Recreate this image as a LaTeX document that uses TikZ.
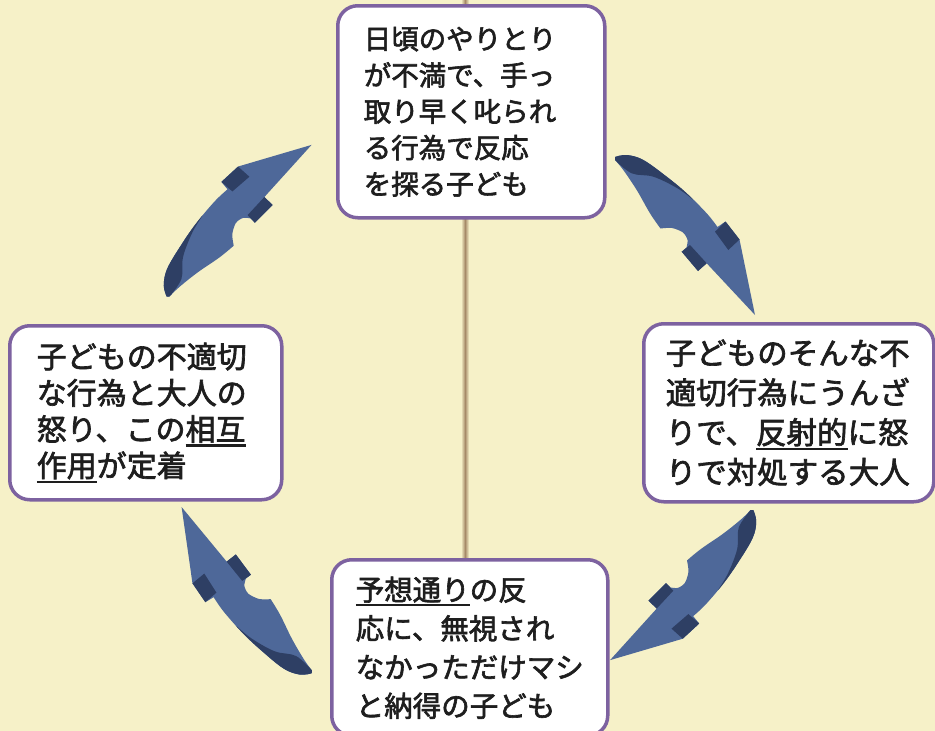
\documentclass[tikz,border=0pt]{standalone}
\usepackage{fontspec}
\newfontfamily\jp{Noto Sans CJK JP}[FakeBold=2.2]
\definecolor{bgc}{HTML}{F6F1C8}
\definecolor{crease}{HTML}{A68A68}
\definecolor{boxline}{HTML}{7D62A0}
\definecolor{arrlight}{HTML}{4E6899}
\definecolor{arrdark}{HTML}{2E3F64}
\definecolor{txt}{HTML}{1E1E1E}
\newcommand\myul[1]{\setbox0\hbox{#1}\leavevmode\rlap{\rule[-0.2em]{\wd0}{0.07em}}\box0}
\tikzset{
  arrbody/.style={insert path={
    plot[smooth,tension=0.6] coordinates {(0,0) (11.7,-2) (28.3,3) (51.7,19.7) (71.7,36.3) (91.7,56.3) (102.5,70)}
    -- (110.5,64.5) -- (124.5,82.5) -- (140,158) -- (91.7,106.3) -- (83,114) -- (66.7,94.7) -- (71.5,90.5)
    -- plot[smooth,tension=0.5] coordinates {(71.5,90.5) (72.5,83) (68,75.5) (57,71) (45.5,71.5)}
    -- plot[smooth,tension=0.6] coordinates {(45.5,71.5) (35,56.3) (21.7,33) (8.3,13) (0,3)} -- cycle}},
  arrband/.style={insert path={
    (-15,8) -- (0,3) -- plot[smooth,tension=0.6] coordinates {(0,3) (16.7,16.3) (38.3,19.7) (62,31) (78,42.6)}
    -- (95,30) -- (40,-25) -- (-15,-10) -- cycle}},
  arrrects/.style={insert path={
    (100,74.7) -- (110.5,64.5) -- (124.5,82.5) -- (113.3,93) -- cycle
    (66.7,94.7) -- (75,88) -- (91.7,106.3) -- (83,114) -- cycle}},
  cbox/.style={draw=boxline, line width=3.5pt, fill=white, rounded corners=20pt,
    anchor=north west, align=left, text=txt, inner ysep=0pt},
}
\newcommand\cyclearrow[4]{%
  \begin{scope}[shift={(#1,#2)},rotate=#3,scale=#4]
    \fill[arrlight, arrbody];
    \begin{scope}
      \clip[arrbody];
      \fill[arrdark, arrband];
    \end{scope}
    \fill[arrdark, arrrects];
  \end{scope}}
\begin{document}
\begin{tikzpicture}[x=1pt,y=-1pt]
  \useasboundingbox (0,0) rectangle (935,731);
  \clip (0,0) rectangle (935,731);
  \fill[bgc] (0,0) rectangle (935,731);
  \shade[left color=bgc, right color=bgc, middle color=crease] (461,0) rectangle (469,731);

  % arrows (clockwise cycle)
  \cyclearrow{615}{157}{0}{1}
  \cyclearrow{753.3}{510}{-85.2}{0.983}
  \cyclearrow{311.7}{673.3}{-183.5}{1.0}
  \cyclearrow{166.7}{296.7}{-265.2}{0.994}

  % boxes
  \node[cbox, minimum width=267pt, minimum height=212pt, inner xsep=26pt, text width=215pt,
        font={\jp\fontsize{27.5}{36.3}\selectfont}] (ntop) at (336,4)
    {日頃のやりとり\\が不満で、手っ\\取り早く叱られ\\る行為で反応\\を探る子ども};
  \node[cbox, minimum width=272pt, minimum height=174pt, inner xsep=27pt, text width=218pt,
        font={\jp\fontsize{30}{36.3}\selectfont}] (nleft) at (8,324)
    {子どもの不適切\\な行為と大人の\\怒り、この\myul{相互}\\\myul{作用}が定着};
  \node[cbox, minimum width=290pt, minimum height=178pt, inner xsep=22pt, text width=246pt,
        font={\jp\fontsize{30.5}{39.7}\selectfont}] (nright) at (642,322)
    {子どものそんな不\\適切行為にうんざ\\りで、\myul{反射的}に怒\\りで対処する大人};
  \node[cbox, minimum width=276pt, minimum height=176pt, inner xsep=24pt, text width=228pt,
        font={\jp\fontsize{28.5}{38.7}\selectfont}] (nbottom) at (330,558)
    {\myul{予想通り}の反\\応に、無視され\\なかっただけマシ\\と納得の子ども};
\end{tikzpicture}
\end{document}
